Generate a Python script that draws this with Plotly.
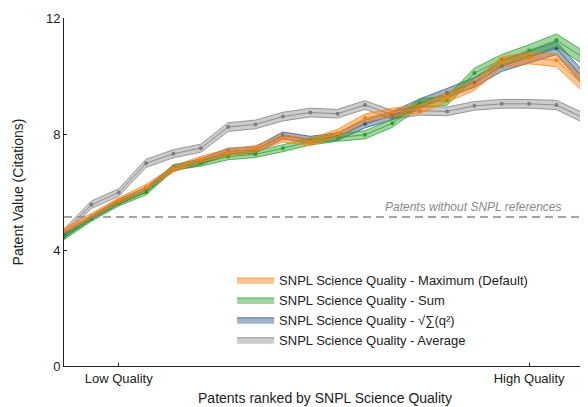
import plotly.graph_objects as go

rank = list(range(20))

avg_vals = [4.6, 5.56, 5.98, 6.99, 7.32, 7.51, 8.24, 8.33, 8.6, 8.74, 8.7, 9.0, 8.66, 8.8, 8.78, 8.97, 9.04, 9.04, 9.0, 8.55]
avg_err = [0.12, 0.13, 0.13, 0.14, 0.14, 0.14, 0.15, 0.15, 0.15, 0.15, 0.15, 0.15, 0.15, 0.15, 0.15, 0.15, 0.15, 0.15, 0.16, 0.17]

sqrt_vals = [4.5, 5.12, 5.66, 6.08, 6.82, 7.05, 7.4, 7.45, 7.95, 7.8, 7.91, 8.35, 8.63, 9.06, 9.41, 9.78, 10.34, 10.65, 10.96, 9.9]
sqrt_err = [0.08, 0.08, 0.09, 0.09, 0.1, 0.1, 0.11, 0.11, 0.12, 0.12, 0.13, 0.14, 0.14, 0.15, 0.16, 0.17, 0.18, 0.2, 0.22, 0.24]

sum_vals = [4.44, 5.07, 5.61, 5.99, 6.85, 6.99, 7.22, 7.3, 7.51, 7.74, 7.88, 7.97, 8.37, 9.06, 9.15, 10.1, 10.56, 10.88, 11.23, 10.62]
sum_err = [0.08, 0.08, 0.09, 0.09, 0.1, 0.1, 0.11, 0.11, 0.12, 0.12, 0.13, 0.14, 0.14, 0.15, 0.16, 0.17, 0.18, 0.2, 0.22, 0.24]

max_vals = [4.67, 5.18, 5.71, 6.17, 6.79, 7.13, 7.37, 7.49, 7.85, 7.72, 8.03, 8.55, 8.75, 8.86, 9.27, 9.67, 10.48, 10.62, 10.54, 9.67]
max_err = [0.08, 0.08, 0.09, 0.09, 0.1, 0.1, 0.11, 0.11, 0.12, 0.12, 0.13, 0.14, 0.14, 0.15, 0.16, 0.17, 0.18, 0.2, 0.22, 0.24]

baseline = 5.14
tick_pos = [2, 17]
tick_text = ["Low Quality", "High Quality"]

series = [
    ("SNPL Science Quality - Average", avg_vals, avg_err, "127,127,127", 0.4, 4),
    ("SNPL Science Quality - √∑(q²)", sqrt_vals, sqrt_err, "44,88,133", 0.45, 3),
    ("SNPL Science Quality - Sum", sum_vals, sum_err, "44,160,44", 0.45, 2),
    ("SNPL Science Quality - Maximum (Default)", max_vals, max_err, "255,127,14", 0.45, 1),
]

fig = go.Figure()
for name, vals, err, rgb, alpha, rankorder in series:
    upper = [v + e for v, e in zip(vals, err)]
    lower = [v - e for v, e in zip(vals, err)]
    fig.add_trace(go.Scatter(
        x=rank + rank[::-1], y=upper + lower[::-1], mode="lines",
        fill="toself", fillcolor=f"rgba({rgb},{alpha})",
        line=dict(color=f"rgba({rgb},0.75)", width=1),
        name=name, legendrank=rankorder, hoverinfo="skip"))
    fig.add_trace(go.Scatter(
        x=rank, y=vals, mode="lines+markers",
        line=dict(color=f"rgba({rgb},0.8)", width=1),
        marker=dict(color=f"rgb({rgb})", size=4),
        showlegend=False))

fig.add_shape(type="line", xref="paper", x0=0, x1=1, yref="y", y0=baseline, y1=baseline,
              line=dict(color="#888888", width=1.5, dash="8px,5px"))
fig.add_annotation(xref="paper", x=0.957, yref="y", y=baseline, yshift=1,
                   text="<i>Patents without SNPL references</i>", showarrow=False,
                   xanchor="right", yanchor="bottom",
                   font=dict(size=12, color="#8a8a8a"))

# page body has an 8px margin, so the figure is sized to fill the rest of the window
fig.update_layout(
    width=580, height=399,
    margin=dict(l=56, r=2, t=10, b=41),
    paper_bgcolor="white", plot_bgcolor="white",
    font=dict(family="Liberation Sans, Arial, sans-serif", size=13, color="#222222"),
    showlegend=True,
    legend=dict(x=0.322, xanchor="left", y=0.29, yanchor="top",
                bgcolor="rgba(255,255,255,0)", font=dict(size=13),
                tracegroupgap=0, itemwidth=37),
    xaxis=dict(range=[0, 19.08], showgrid=False, zeroline=False,
               showline=True, linecolor="#222222", linewidth=1,
               tickmode="array", tickvals=tick_pos, ticktext=tick_text,
               ticks="inside", ticklen=3, tickcolor="#222222",
               title=dict(text="Patents ranked by SNPL Science Quality", font=dict(size=14), standoff=8)),
    yaxis=dict(range=[0, 12], showgrid=False, zeroline=False,
               showline=True, linecolor="#222222", linewidth=1,
               tickvals=[0, 4, 8, 12], ticks="inside", ticklen=3, tickcolor="#222222",
               title=dict(text="Patent Value (Citations)", font=dict(size=14), standoff=19)),
)

fig.write_html("out.html")
